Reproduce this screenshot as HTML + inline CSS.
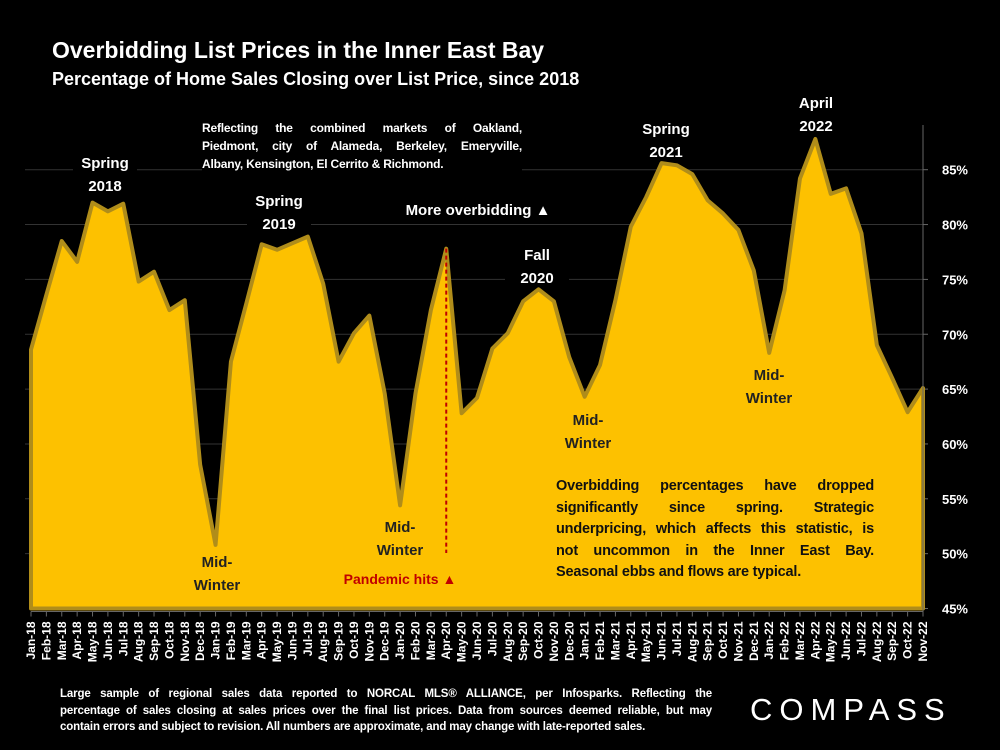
<!DOCTYPE html>
<html><head><meta charset="utf-8"><style>
body{margin:0;background:#000;width:1000px;height:750px;overflow:hidden;font-family:"Liberation Sans",sans-serif}
svg text{font-family:"Liberation Sans",sans-serif;font-weight:bold}
.j{position:absolute;font-weight:bold;font-family:"Liberation Sans",sans-serif;white-space:nowrap}
.j div{text-align:justify;text-align-last:justify}
.j div.l{text-align-last:left}
</style></head><body>
<svg id="c" width="1000" height="750" style="position:absolute;left:0;top:0"></svg>
<div class="j" style="left:202px;top:119px;width:320px;font-size:12px;line-height:18px;color:#fff;background:#000;letter-spacing:-0.2px;white-space:normal"><div>Reflecting the combined markets of Oakland,</div><div>Piedmont, city of Alameda, Berkeley, Emeryville,</div><div class="l">Albany, Kensington, El Cerrito &amp; Richmond.</div></div>
<div class="j" style="left:556px;top:476px;width:318px;font-size:14.5px;line-height:21.6px;color:#111;letter-spacing:-0.2px;white-space:normal"><div>Overbidding percentages have dropped</div><div>significantly since spring. Strategic</div><div>underpricing, which affects this statistic, is</div><div>not uncommon in the Inner East Bay.</div><div class="l">Seasonal ebbs and flows are typical.</div></div>
<div class="j" style="left:60px;top:686px;width:652px;font-size:11.5px;line-height:16.5px;color:#fff;letter-spacing:-0.15px;white-space:normal"><div>Large sample of regional sales data reported to NORCAL MLS® ALLIANCE, per Infosparks. Reflecting the</div><div>percentage of sales closing at sales prices over the final list prices. Data from sources deemed reliable, but may</div><div class="l">contain errors and subject to revision. All numbers are approximate, and may change with late-reported sales.</div></div>
<div style="position:absolute;left:750px;top:692px;font-size:31px;letter-spacing:7px;color:#fff;font-family:'Liberation Sans',sans-serif">COMPASS</div>
<script>
const months=["Jan","Feb","Mar","Apr","May","Jun","Jul","Aug","Sep","Oct","Nov","Dec"];
const categories=[];
for(let y=18;y<=22;y++)for(let m=0;m<12;m++){if(y===22&&m===11)break;categories.push(months[m]+"-"+y);}
const values=[68.6,73.6,78.5,76.6,82.0,81.2,81.9,74.8,75.7,72.2,73.1,58.1,
50.8,67.5,72.8,78.2,77.7,78.3,78.9,74.6,67.5,70.1,71.7,64.6,
54.4,64.6,72.2,77.8,62.8,64.2,68.7,70.1,73.0,74.1,73.0,67.9,
64.3,67.2,73.1,79.8,82.5,85.6,85.4,84.6,82.2,81.0,79.5,75.8,
68.3,74.0,84.2,87.8,82.8,83.3,79.2,69.0,66.0,62.9,65.1];
const yTicks=[45,50,55,60,65,70,75,80,85];
const NS="http://www.w3.org/2000/svg";
const svg=document.getElementById("c");
const X0=31,X1=923,Y45=608.5,PX=10.97;
const xs=i=>X0+i*(X1-X0)/(categories.length-1);
const ys=v=>Y45-(v-45)*PX;
function mk(t,a,p){const e=document.createElementNS(NS,t);for(const k in a)e.setAttribute(k,a[k]);(p||svg).appendChild(e);return e;}
let t=mk("text",{x:52,y:58,fill:"#fff","font-size":23});t.textContent="Overbidding List Prices in the Inner East Bay";


t=mk("text",{x:52,y:85,fill:"#fff","font-size":18});t.textContent="Percentage of Home Sales Closing over List Price, since 2018";


yTicks.forEach(v=>{
 if(v>45){const g=mk("line",{x1:25,x2:X1,y1:ys(v),y2:ys(v),stroke:"#333","stroke-width":1});
 
 }
 const l=mk("text",{x:968,y:ys(v)+5,fill:"#fff","font-size":13,"text-anchor":"end"});l.textContent=v+"%";
 
 
 mk("line",{x1:X1,x2:X1+5,y1:ys(v),y2:ys(v),stroke:"#666"});
});
const bgs=mk("g",{});
let d="M"+xs(0)+","+Y45;values.forEach((v,i)=>d+=" L"+xs(i)+","+ys(v));d+=" L"+xs(values.length-1)+","+Y45+" Z";
const a=mk("path",{d:d,fill:"#fdc100",stroke:"#b08d1a","stroke-width":4,"stroke-linejoin":"round"});


mk("line",{x1:X1,x2:X1,y1:125,y2:Y45+3,stroke:"#666"});
mk("line",{x1:X0,x2:X1,y1:Y45+3,y2:Y45+3,stroke:"#666"});
categories.forEach((c,i)=>{
 mk("line",{x1:xs(i),x2:xs(i),y1:Y45+3,y2:Y45+8,stroke:"#666"});
 const l=mk("text",{x:0,y:0,fill:"#fff","font-size":12,"text-anchor":"end",transform:`translate(${xs(i)+4},${Y45+13}) rotate(-90)`});
 l.textContent=c;
 
 
});
const pi=categories.indexOf("Apr-20");
const pl=mk("line",{x1:xs(pi),x2:xs(pi),y1:ys(values[pi]),y2:553,stroke:"#c00000","stroke-width":2,"stroke-dasharray":"4,3"});


function note(lines,x,y,col,name,bg){
 if(bg){mk("rect",{x:x-32,y:y-16,width:64,height:lines.length*23+2,fill:"#000"},bgs);}
 lines.forEach((s,k)=>{const e=mk("text",{x:x,y:y+k*23,fill:col,"font-size":15,"text-anchor":"middle"});e.textContent=s;
 
 });
}
note(["Spring","2018"],105,168,"#fff","spring-2018-label",true);
note(["Spring","2019"],279,206,"#fff","spring-2019-label",true);
note(["Fall","2020"],537,260,"#fff","fall-2020-label",true);
note(["Spring","2021"],666,134,"#fff","spring-2021-label",true);
note(["April","2022"],816,108,"#fff","april-2022-label",true);
note(["Mid-","Winter"],217,567,"#222","mid-winter-2019-label");
note(["Mid-","Winter"],400,532,"#222","mid-winter-2020-label");
note(["Mid-","Winter"],588,425,"#222","mid-winter-2021-label");
note(["Mid-","Winter"],769,380,"#222","mid-winter-2022-label");
t=mk("text",{x:478,y:215,fill:"#fff","font-size":15,"text-anchor":"middle"});t.textContent="More overbidding ▲";


t=mk("text",{x:400,y:584,fill:"#c00000","font-size":14,"text-anchor":"middle"});t.textContent="Pandemic hits ▲";


</script>
</body></html>
